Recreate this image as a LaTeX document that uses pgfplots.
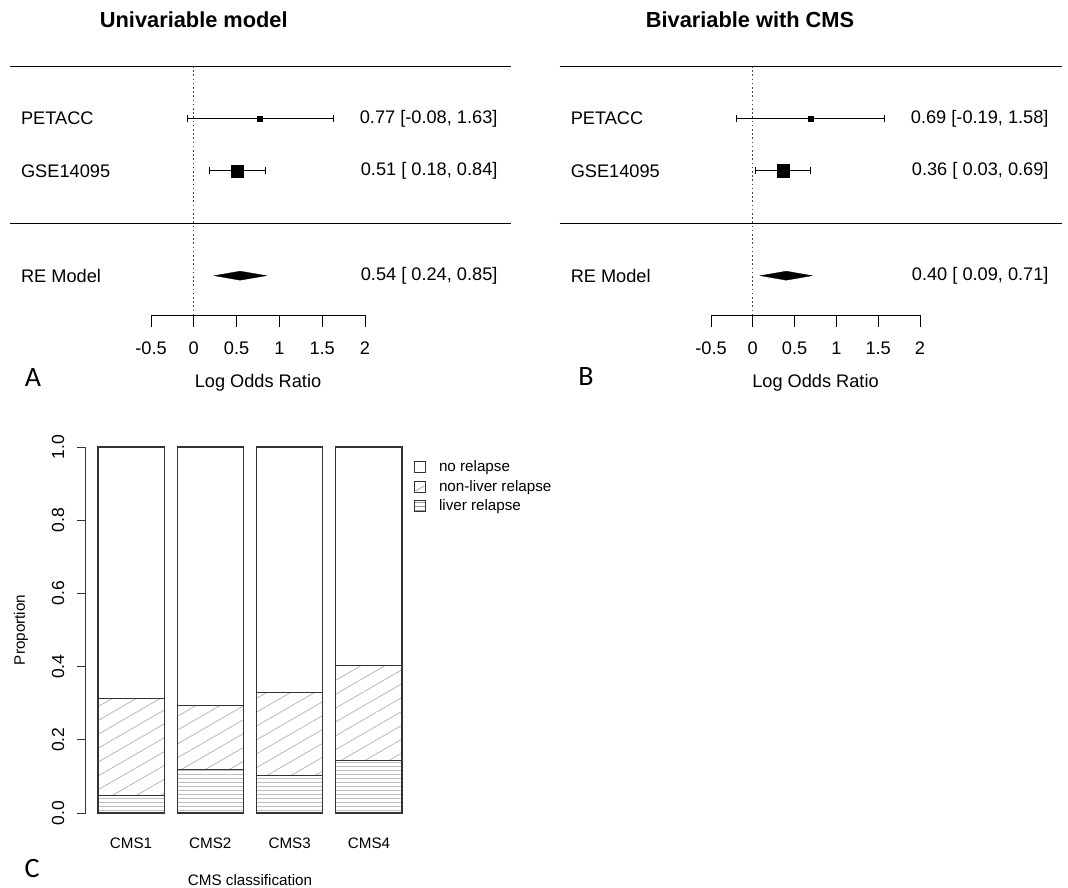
\documentclass[border=0pt]{standalone}
\usepackage{pgfplots}
\pgfplotsset{compat=1.18}
\usetikzlibrary{patterns.meta}
\usepackage{fontspec}
\setmainfont{Liberation Sans}
\newfontfamily\lettersfont{Carlito}
\newcommand\fA{\fontsize{18.2pt}{22pt}\selectfont}
\newcommand\fT{\fontsize{21.8pt}{26pt}\selectfont\bfseries}
\newcommand\fC{\fontsize{15.2pt}{18pt}\selectfont}
\newcommand\fY{\fontsize{17.5pt}{20pt}\selectfont}
\newcommand\fL{\fontsize{28pt}{32pt}\selectfont\lettersfont}
\definecolor{dotc}{HTML}{444444}
\definecolor{barc}{HTML}{333333}
\definecolor{hatc}{HTML}{B0B0B0}
\definecolor{horc}{HTML}{9A9A9A}
\pgfdeclarepattern{
  name=hlines,
  type=uncolored,
  bottom left={\pgfpoint{0pt}{0pt}},
  top right={\pgfpoint{300pt}{4pt}},
  tile size={\pgfpoint{300pt}{4pt}},
  code={
    \pgfsetlinewidth{0.7pt}
    \pgfpathmoveto{\pgfpoint{-1pt}{2pt}}
    \pgfpathlineto{\pgfpoint{301pt}{2pt}}
    \pgfusepath{stroke}
  }
}
\tikzset{
  lab/.style={anchor=west, font=\fA, inner sep=0pt},
  est/.style={anchor=east, font=\fA, inner sep=0pt},
}
\pgfplotsset{
  forest/.style={
    scale only axis, ymin=-1.75, ymax=3, height=249pt,
    xmin=-0.5, xmax=2,
    axis x line*=bottom, axis y line=none, clip=false,
    xtick={-0.5,0,0.5,1,1.5,2}, xticklabels={-0.5,0,0.5,1,1.5,2},
    tick align=outside, major tick length=12pt,
    x axis line style={line width=0.9pt, black},
    xtick style={line width=0.9pt, black},
    xticklabel style={font=\fA, yshift=-11pt},
  },
  ci/.style={black, line width=0.85pt, mark=|, mark size=3.6pt, mark options={solid, line width=0.85pt}},
  rule/.style={black, line width=0.9pt},
  zero/.style={dotc, line width=1.1pt, dash pattern=on 1.6pt off 2.6pt},
  boxlegend/.style={legend image code/.code={\draw[##1, line width=0.8pt] (0pt,-5.5pt) rectangle (11pt,5.5pt);}},
  hatchlegend/.style={legend image code/.code={\draw[draw=barc, fill=white, line width=0.8pt] (0pt,-5.5pt) rectangle (11pt,5.5pt); \draw[hatc, line width=0.8pt] (1pt,-4.5pt) -- (10pt,0.7pt);}},
}
\begin{document}
\begin{tikzpicture}
\path[use as bounding box] (0,0) rectangle (1068pt,-888pt);
% ---------------- Panel A ----------------
\begin{axis}[forest, at={(151pt,-315pt)}, anchor=south west, width=214pt]
\addplot[zero] coordinates {(0,3) (0,-1.75)};
\addplot[rule] coordinates {(-2.15,3) (3.71,3)};
\addplot[rule] coordinates {(-2.15,0) (3.71,0)};
\addplot[ci] coordinates {(-0.08,2) (1.63,2)};
\addplot[only marks, mark=square*, mark size=2.3pt, black] coordinates {(0.77,2)};
\addplot[ci] coordinates {(0.18,1) (0.84,1)};
\addplot[only marks, mark=square*, mark size=6pt, black] coordinates {(0.51,1)};
\addplot[fill=black, draw=black, line width=0.3pt] coordinates {(0.24,-1) (0.54,-0.914) (0.85,-1) (0.54,-1.086)} -- cycle;
\node[lab] at (axis cs:-2.02,2) {PETACC};
\node[lab] at (axis cs:-2.02,1) {GSE14095};
\node[lab] at (axis cs:-2.02,-1) {RE Model};
\node[est] at (axis cs:3.55,2) {0.77 [-0.08, 1.63]};
\node[est] at (axis cs:3.55,1) {0.51 [ 0.18, 0.84]};
\node[est] at (axis cs:3.55,-1) {0.54 [ 0.24, 0.85]};
\end{axis}
% ---------------- Panel B ----------------
\begin{axis}[forest, at={(711pt,-315pt)}, anchor=south west, width=209pt]
\addplot[zero] coordinates {(0,3) (0,-1.75)};
\addplot[rule] coordinates {(-2.31,3) (3.70,3)};
\addplot[rule] coordinates {(-2.31,0) (3.70,0)};
\addplot[ci] coordinates {(-0.19,2) (1.58,2)};
\addplot[only marks, mark=square*, mark size=2.3pt, black] coordinates {(0.69,2)};
\addplot[ci] coordinates {(0.03,1) (0.69,1)};
\addplot[only marks, mark=square*, mark size=6.2pt, black] coordinates {(0.36,1)};
\addplot[fill=black, draw=black, line width=0.3pt] coordinates {(0.09,-1) (0.40,-0.914) (0.71,-1) (0.40,-1.086)} -- cycle;
\node[lab] at (axis cs:-2.18,2) {PETACC};
\node[lab] at (axis cs:-2.18,1) {GSE14095};
\node[lab] at (axis cs:-2.18,-1) {RE Model};
\node[est] at (axis cs:3.54,2) {0.69 [-0.19, 1.58]};
\node[est] at (axis cs:3.54,1) {0.36 [ 0.03, 0.69]};
\node[est] at (axis cs:3.54,-1) {0.40 [ 0.09, 0.71]};
\end{axis}
% titles and labels
\node[font=\fT] at (193.8pt,-20pt) {Univariable model};
\node[font=\fT] at (750pt,-20pt) {Bivariable with CMS};
\node[font=\fA] at (258pt,-383pt) {Log Odds Ratio};
\node[font=\fA] at (815.5pt,-383pt) {Log Odds Ratio};
\node[font=\fL] at (33pt,-378pt) {A};
\node[font=\fL] at (586pt,-377pt) {B};
% ---------------- Panel C ----------------
\begin{axis}[at={(85.8pt,-813pt)}, anchor=south west, scale only axis,
  width=328.4pt, height=366pt,
  xmin=0.016, xmax=4.984, ymin=0, ymax=1,
  ybar stacked, bar width=1,
  axis lines*=left, clip=false,
  x axis line style={draw=none},
  xtick={0.7,1.9,3.1,4.3}, xticklabels={CMS1,CMS2,CMS3,CMS4},
  xtick style={draw=none},
  xticklabel style={font=\fC, yshift=-12pt},
  ytick={0,0.2,0.4,0.6,0.8,1}, yticklabels={0.0,0.2,0.4,0.6,0.8,1.0},
  yticklabel style={font=\fY, rotate=90, anchor=south},
  yticklabel shift=9pt,
  tick align=outside, major tick length=9pt,
  y axis line style={line width=1pt, barc},
  ytick style={line width=1pt, barc},
  reverse legend,
  legend style={at={(0.9994,0.968)}, anchor=north west, draw=none, fill=none,
    inner sep=0pt, font=\fC, row sep=2.8pt,
    /tikz/every odd column/.append style={column sep=11pt}},
  legend cell align=left,
]
\addplot[draw=barc, line width=1.1pt, pattern=hlines, pattern color=horc, boxlegend]
  coordinates {(0.7,0.048) (1.9,0.118) (3.1,0.102) (4.3,0.143)};
\addplot[draw=barc, line width=1.1pt, pattern={Lines[angle=30,distance=12pt,line width=0.7pt]}, pattern color=hatc, hatchlegend]
  coordinates {(0.7,0.264) (1.9,0.175) (3.1,0.228) (4.3,0.259)};
\addplot[draw=barc, line width=1.1pt, fill=white, boxlegend]
  coordinates {(0.7,0.688) (1.9,0.707) (3.1,0.670) (4.3,0.598)};
\legend{liver relapse, non-liver relapse, no relapse}
\end{axis}
\node[font=\fC, rotate=90] at (21pt,-630pt) {Proportion};
\node[font=\fC] at (250pt,-880pt) {CMS classification};
\node[font=\fL] at (32pt,-869pt) {C};
\end{tikzpicture}
\end{document}
